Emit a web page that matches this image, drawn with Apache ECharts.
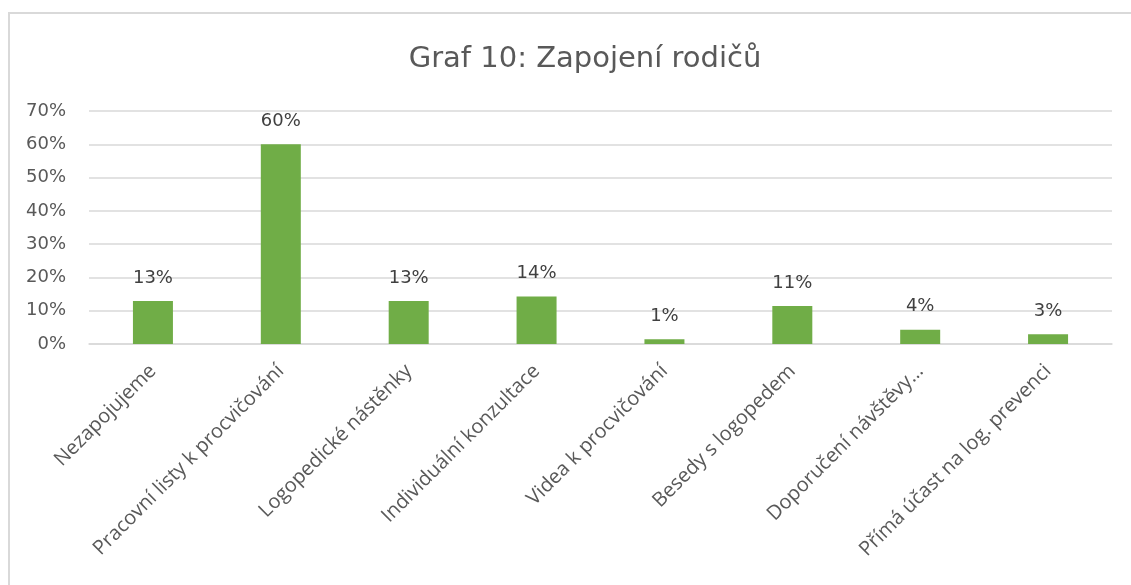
<!DOCTYPE html>
<html>
<head>
<meta charset="utf-8">
<script src="https://cdn.jsdelivr.net/npm/echarts@6/dist/echarts.min.js"></script>
<style>html,body{margin:0;padding:0;background:#fff}#c{width:1131px;height:585px}</style>
</head>
<body>
<div id="c"></div>
<script>
const titleText = 'Graf 10: Zapojení rodičů';
const categories = ['Nezapojujeme','Pracovní listy k procvičování','Logopedické nástěnky','Individuální konzultace','Videa k procvičování','Besedy s logopedem','Doporučení návštěvy…','Přímá účast na log. prevenci'];
const values = [12.9, 60.0, 12.9, 14.3, 1.4, 11.4, 4.3, 2.9];
const yTicks = [0, 10, 20, 30, 40, 50, 60, 70];

const chart = echarts.init(document.getElementById('c'));
chart.setOption({
  animation: false,
  backgroundColor: '#fff',
  graphic: [{
    type: 'polyline', silent: true,
    shape: { points: [[9, 700], [9, 13], [1200, 13]] },
    style: { fill: null, stroke: '#D9D9D9', lineWidth: 2 }
  }],
  title: {
    text: titleText, left: 580, top: 40, textAlign: 'center',
    textStyle: { fontFamily: 'DejaVu Sans', fontSize: 29, fontWeight: 'normal', color: '#595959' }
  },
  grid: { left: 89, right: 19, top: 111, bottom: 241, containLabel: false },
  xAxis: {
    type: 'category', data: categories,
    axisLine: { lineStyle: { color: '#D9D9D9', width: 1.5 } },
    axisTick: { show: false },
    axisLabel: { rotate: 45, interval: 0, margin: 24, color: '#595959', fontFamily: 'Open Sans', fontSize: 20 }
  },
  yAxis: {
    type: 'value', min: yTicks[0], max: yTicks[yTicks.length - 1], interval: 10,
    axisLine: { show: false }, axisTick: { show: false },
    splitLine: { lineStyle: { color: '#D9D9D9', width: 1.5 } },
    axisLabel: { formatter: '{value}%', color: '#595959', fontFamily: 'DejaVu Sans', fontSize: 18, margin: 23 }
  },
  series: [{
    type: 'bar', data: values, barWidth: 40,
    itemStyle: { color: '#70AD47' },
    label: {
      show: true, position: 'top', distance: 14,
      formatter: p => Math.round(p.value) + '%',
      color: '#404040', fontFamily: 'DejaVu Sans', fontSize: 18
    }
  }]
});
</script>
</body>
</html>
